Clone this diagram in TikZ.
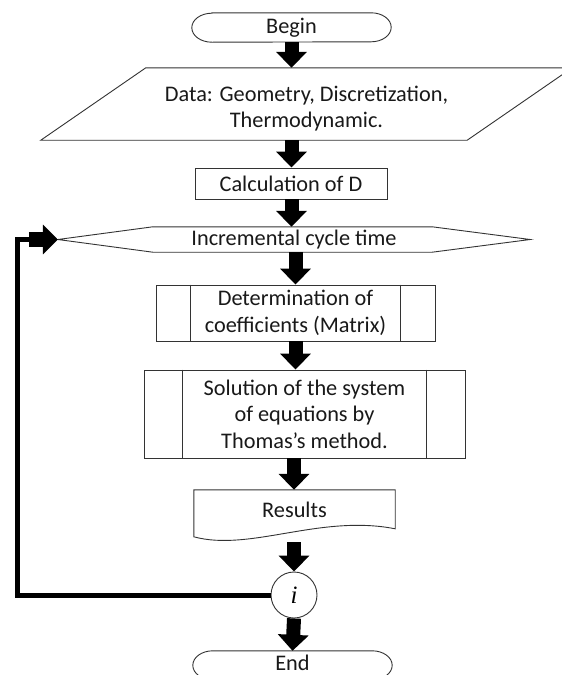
\documentclass[tikz,border=0pt]{standalone}
\usepackage{fontspec}
\setmainfont{Carlito}
\newfontfamily\serifit{Liberation Serif}
\usetikzlibrary{arrows.meta,calc}
\begin{document}
\begin{tikzpicture}[x=1pt,y=-1pt,
  shp/.style={draw=black!80, line width=0.9pt},
  txt/.style={font=\fontsize{22.3}{26.5}\selectfont, align=center, inner sep=0pt, text=black!90},
  barrow/.style={line width=14pt, line cap=butt, -{Triangle[width=30pt,length=16pt]}},
  harrow/.style={line width=15pt, line cap=butt, -{Triangle[width=29pt,length=15pt]}},
  loopline/.style={line width=5pt, line join=miter, line cap=butt}
]
\useasboundingbox (0,0) rectangle (562,675);
\fill[white] (0,0) rectangle (562,675);
\clip (0,0) rectangle (562,675);

% Begin terminal
\node[txt, minimum width=199pt, minimum height=29pt] (begin) at (291.5,27.5) {Begin};
\draw[shp] ($(begin.north west)+(20,0)$) -- ($(begin.north east)+(-20,0)$)
  arc[start angle=-90,end angle=90,x radius=20,y radius=14.5]
  -- ($(begin.south west)+(20,0)$)
  arc[start angle=90,end angle=270,x radius=20,y radius=14.5] -- cycle;

% Data parallelogram
\node[txt, minimum width=321pt, minimum height=72pt] (data) at (306.5,104) {\rule{0pt}{25pt}Data: Geometry, Discretization,\\Thermodynamic.};
\draw[shp] ($(data.south west)+(-105,0)$) -- (data.north west) -- ($(data.north east)+(105,0)$) -- (data.south east) -- cycle;

% Calculation of D
\node[txt, shp, minimum width=192pt, minimum height=31pt] (calc) at (291,183.5) {Calculation of D};

% Hexagon
\node[txt, minimum width=472pt, minimum height=25pt] (hex) at (294,239.5) {Incremental cycle time};
\draw[shp] (hex.west) -- ($(hex.north west)+(95,0)$) -- ($(hex.north east)+(-98,0)$) -- (hex.east)
  -- ($(hex.south east)+(-98,0)$) -- ($(hex.south west)+(95,0)$) -- cycle;

% Determination (predefined process)
\node[txt, shp, minimum width=279pt, minimum height=56pt] (det) at (295.5,313) {Determination of\\coefficients (Matrix)};
\draw[shp] ($(det.north west)+(35,0)$) -- ($(det.south west)+(35,0)$);
\draw[shp] ($(det.north east)+(-35,0)$) -- ($(det.south east)+(-35,0)$);

% Solution (predefined process)
\node[txt, shp, minimum width=321pt, minimum height=88pt] (sol) at (304.5,414) {Solution of the system\\of equations by\\Thomas’s method.};
\draw[shp] ($(sol.north west)+(39,0)$) -- ($(sol.south west)+(39,0)$);
\draw[shp] ($(sol.north east)+(-39,0)$) -- ($(sol.south east)+(-39,0)$);

% Results (document)
\node[txt, minimum width=201pt, minimum height=40pt] (res) at (294.5,510) {Results};
\draw[shp] (res.north west) -- (res.north east) -- ($(res.north east)+(0,39)$)
  .. controls (320,514) and (250,552) .. ($(res.north west)+(0,47)$) -- cycle;

% Connector circle
\node[draw=black!80, line width=0.9pt, circle, minimum size=46pt, inner sep=0pt,
  font=\fontsize{25}{27}\selectfont] (ci) at (294,595) {\serifit\itshape i};

% End terminal
\node[txt, minimum width=199pt, minimum height=24pt] (end) at (292.5,663) {End};
\draw[shp] ($(end.north west)+(20,0)$) -- ($(end.north east)+(-20,0)$)
  arc[start angle=-90,end angle=90,x radius=20,y radius=14.5]
  -- ($(end.north west)+(20,29)$)
  arc[start angle=90,end angle=270,x radius=20,y radius=14.5] -- cycle;

% Block arrows
\draw[barrow] (begin.south) -- (begin.south |- data.north);
\draw[barrow] (begin.south |- data.south) -- (begin.south |- calc.north);
\draw[barrow] (begin.south |- calc.south) -- (begin.south |- hex.north);
\draw[barrow] (det.north |- hex.south) -- (det.north);
\draw[barrow] (det.south) -- (det.south |- sol.north);
\draw[barrow] (ci.north |- sol.south) -- (ci.north |- res.north);
\draw[barrow] ($(ci.north |- res.south)+(0,12)$) -- (ci.north);
\draw[barrow] (ci.south) -- (end.north);

% Feedback loop
\coordinate (lpcorner) at (17,595);
\draw[loopline] (ci.west) -- (lpcorner) |- ($(hex.west)+(-28,0)$);
\draw[harrow] ($(hex.west)+(-29,0)$) -- (hex.west);
\end{tikzpicture}
\end{document}
